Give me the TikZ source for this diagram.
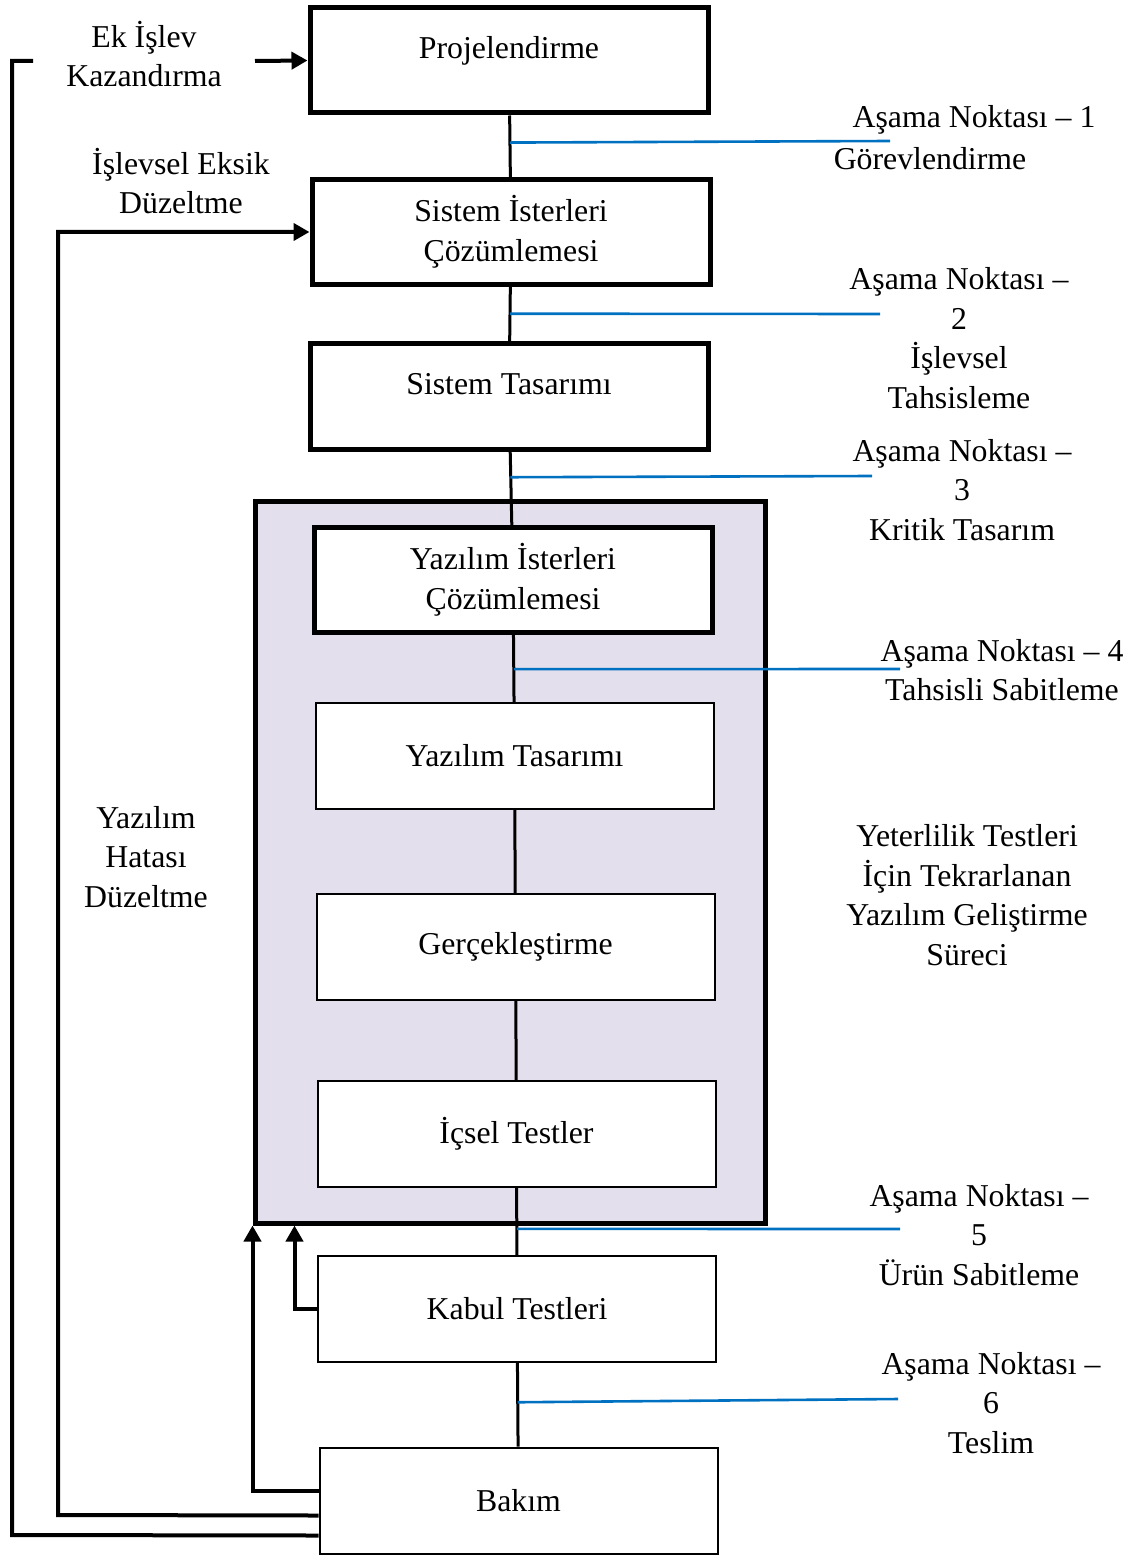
\documentclass[tikz,border=0pt]{standalone}
\usepackage{fontspec}
\setmainfont{Liberation Serif}
\usetikzlibrary{arrows.meta,calc}
\definecolor{lav}{HTML}{E4DFEC}
\definecolor{mblue}{HTML}{0070C0}
\begin{document}
\begin{tikzpicture}[x=0.5pt,y=-0.5pt,
  every node/.style={font=\fontsize{15.9pt}{19.75pt}\selectfont, align=center, inner sep=0pt},
  thickbox/.style={draw, line width=2.5pt, fill=white, minimum width=199pt, minimum height=52.5pt},
  thinbox/.style={draw, line width=1pt, fill=white, minimum width=199pt, minimum height=53pt},
  contbox/.style={draw, line width=2.5pt, fill=lav, minimum width=255pt, minimum height=361pt},
  conn/.style={line width=1.5pt},
  fb/.style={line width=2pt},
  fba/.style={fb, -{Triangle[length=8pt,width=8.5pt]}},
  mile/.style={mblue, line width=1.3pt}
]
\useasboundingbox (0,0) rectangle (1144,1556);

% container
\node[contbox] (cont) at (510,862) {};

% boxes
\node[thickbox] (b1) at (509,60.5) {\raisebox{13.5pt}{Projelendirme}};
\node[thickbox] (b2) at (511,232) {Sistem İsterleri\\Çözümlemesi};
\node[thickbox] (b3) at (509,396.5) {\raisebox{13pt}{Sistem Tasarımı}};
\node[thickbox] (b5) at (513,580) {Yazılım İsterleri\\Çözümlemesi};
\node[thinbox] (b6) at (514.5,756) {Yazılım Tasarımı};
\node[thinbox] (b7) at (515.5,947) {Gerçekleştirme};
\node[thinbox] (b8) at (516.5,1134) {İçsel Testler};
\node[thinbox] (b9) at (517,1309) {Kabul Testleri};
\node[thinbox] (b10) at (518.5,1500.5) {Bakım};

% vertical connectors
\draw[conn] (b1) -- (b2);
\draw[conn] (b2) -- (b3);
\draw[conn] (b3) -- (b5);
\draw[conn] (b5) -- (b6);
\draw[conn] (b6) -- (b7);
\draw[conn] (b7) -- (b8);
\draw[conn] (b8) -- (b9);
\draw[conn] (b9) -- (b10);

% milestone lines
\coordinate (e1) at (890,141);
\coordinate (e2) at (880,314);
\coordinate (e3) at (872,476);
\coordinate (e4) at (900,669);
\coordinate (e5) at (900,1229);
\coordinate (e6) at (898,1399);
\draw[mile] ($(b1.south)!0.44!(b2.north)$) -- (e1);
\draw[mile] ($(b2.south)!0.49!(b3.north)$) -- (e2);
\draw[mile] ($(b3.south)!0.35!(b5.north)$) -- (e3);
\draw[mile] ($(b5.south)!0.51!(b6.north)$) -- (e4);
\draw[mile] ($(b8.south)!0.61!(b9.north)$) -- (e5);
\draw[mile] ($(b9.south)!0.47!(b10.north)$) -- (e6);

% milestone labels
\node (m1a) at (974,120) {Aşama Noktası – 1};
\node (m1b) at (930,159) {Görevlendirme};
\node (m2) at (959,338) {Aşama Noktası –\\2\\İşlevsel\\Tahsisleme};
\node (m3) at (962,490) {Aşama Noktası –\\3\\Kritik Tasarım};
\node (m4) at (1002,670) {Aşama Noktası – 4\\Tahsisli Sabitleme};
\node (yt) at (967,895) {Yeterlilik Testleri\\İçin Tekrarlanan\\Yazılım Geliştirme\\Süreci};
\node (m5) at (979,1235) {Aşama Noktası –\\5\\Ürün Sabitleme};
\node (m6) at (991,1403) {Aşama Noktası –\\6\\Teslim};

% left labels
\node (l1) at (144,54) {Ek İşlev\\Kazandırma};
\node (l2) at (181,181) {İşlevsel Eksik\\Düzeltme};
\node (l3) at (146,857) {Yazılım\\Hatası\\Düzeltme};

% feedback connectors
\coordinate (g1) at (33,61);
\coordinate (g2) at (255,61);
\draw[fb] ([yshift=-17.5pt]b10.west) -- (12,1535) -- (12,61) -- (g1);
\draw[fba] (g2) -- (b1.west);
\draw[fba] ([yshift=-7.5pt]b10.west) -- (58,1515) |- (b2.west);
\draw[fba] ([yshift=5pt]b10.west) -| (cont.south west);
\draw[fba] (b9.west) -| ([xshift=21pt]cont.south west);
\end{tikzpicture}
\end{document}
